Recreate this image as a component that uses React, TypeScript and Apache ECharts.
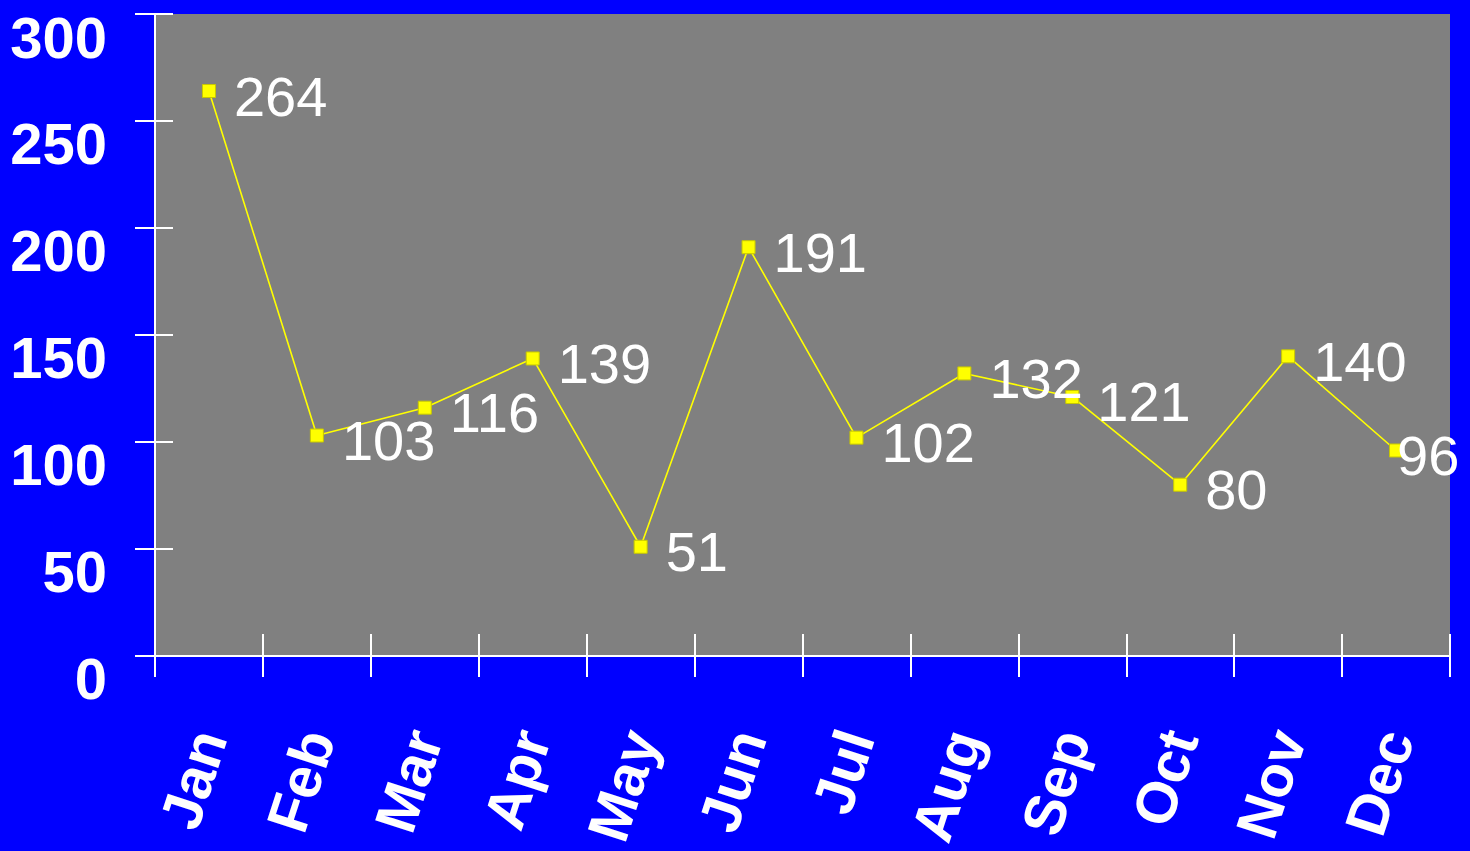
import React, { useEffect, useRef } from "react";
import * as echarts from "echarts";

const months = ["Jan", "Feb", "Mar", "Apr", "May", "Jun", "Jul", "Aug", "Sep", "Oct", "Nov", "Dec"];
const values = [264, 103, 116, 139, 51, 191, 102, 132, 121, 80, 140, 96];
const yTicks = { min: 0, max: 300, interval: 50 };

const FONT = "Arial, 'Liberation Sans', sans-serif";

export default function App() {
  const ref = useRef<HTMLDivElement>(null);
  useEffect(() => {
    if (!ref.current) return;
    const chart = echarts.init(ref.current, null, { renderer: "svg" });
    const seriesData = values.map((v, i) =>
      i === values.length - 1
        ? { value: v, label: { offset: [-24, 5] } }
        : { value: v }
    );
    const baseX = {
      type: "category",
      data: months,
      boundaryGap: true,
      position: "bottom",
    };
    const baseY = {
      type: "value",
      min: yTicks.min,
      max: yTicks.max,
      interval: yTicks.interval,
      splitLine: { show: false },
    };
    chart.setOption({
      animation: false,
      backgroundColor: "#0000ff",
      grid: {
        left: 155,
        right: 20,
        top: 14,
        bottom: 193,
        show: true,
        backgroundColor: "#808080",
        borderWidth: 0,
        containLabel: false,
      },
      xAxis: [
        {
          ...baseX,
          axisLine: { show: true, lineStyle: { color: "#ffffff", width: 2 } },
          axisTick: { show: true, inside: false, length: 21, lineStyle: { color: "#ffffff", width: 2 } },
          axisLabel: {
            show: true,
            interval: 0,
            rotate: 72,
            margin: 76,
            color: "#ffffff",
            fontSize: 58,
            fontWeight: "bold",
            fontFamily: FONT,
          },
        },
        {
          ...baseX,
          axisLine: { show: false },
          axisTick: { show: true, inside: true, length: 22, lineStyle: { color: "#ffffff", width: 2 } },
          axisLabel: { show: false },
        },
      ],
      yAxis: [
        {
          ...baseY,
          axisLine: { show: true, lineStyle: { color: "#ffffff", width: 2 } },
          axisTick: { show: true, inside: false, length: 20, lineStyle: { color: "#ffffff", width: 2 } },
          axisLabel: {
            show: true,
            margin: 48,
            color: "#ffffff",
            fontSize: 58,
            fontWeight: "bold",
            fontFamily: FONT,
            verticalAlign: "top",
            lineHeight: 58,
            padding: [-6, 0, 0, 0],
          },
        },
        {
          ...baseY,
          position: "left",
          axisLine: { show: false },
          axisTick: { show: true, inside: true, length: 18, lineStyle: { color: "#ffffff", width: 2 } },
          axisLabel: { show: false },
        },
      ],
      series: [
        {
          type: "line",
          xAxisIndex: 0,
          yAxisIndex: 0,
          data: seriesData,
          symbol: "rect",
          symbolSize: 13,
          lineStyle: { color: "#ffff00", width: 1.6 },
          itemStyle: { color: "#ffff00", borderColor: "#c8c800", borderWidth: 1 },
          label: {
            show: true,
            position: "right",
            distance: 18,
            offset: [0, 5],
            color: "#ffffff",
            fontSize: 56,
            fontFamily: FONT,
          },
        },
      ],
    });
    return () => chart.dispose();
  }, []);
  return (
    <div
      ref={ref}
      style={{ position: "fixed", left: 0, top: 0, width: 1470, height: 851 }}
    />
  );
}
